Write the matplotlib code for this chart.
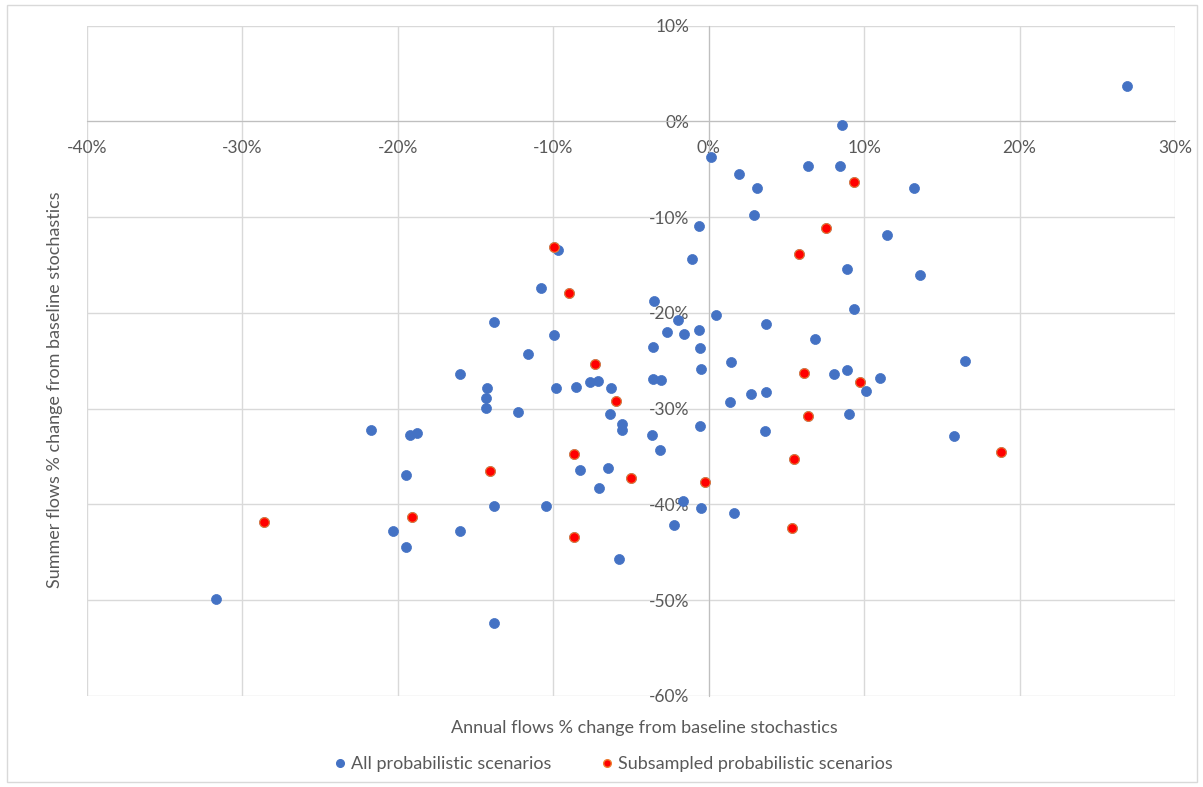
import matplotlib
matplotlib.use("Agg")
import matplotlib.pyplot as plt
from matplotlib.lines import Line2D
from matplotlib.patches import Rectangle
from matplotlib.ticker import PercentFormatter, MultipleLocator

plt.rcParams["axes.unicode_minus"] = False

# annual vs summer flow change (%), scenarios not picked for the subsample
blue_x = [26.9, 8.56, 0.13, 1.95, 3.09, 2.9, -0.62, -1.05, -9.68, -10.8,
          -3.5, 6.37, 8.44, 13.2, 11.5, 8.89, 13.6, -21.7, -20.3, -31.7,
          -13.8, -9.96, -11.65, -15.97, -14.25, -14.34, -14.3, -12.3, -19.2, -18.8,
          -19.5, -13.8, -10.5, -16.0, -19.5, -13.8, -9.8, -8.54, -7.66, -7.15,
          -6.31, -6.33, -5.56, -5.56, -8.29, -6.5, -7.04, -5.78, -3.6, -2.68,
          -1.95, -1.59, -0.6, -0.58, -0.5, -3.59, -3.05, -3.63, -3.13, -0.58,
          -1.63, -0.5, -2.25, 0.45, 3.67, 1.46, 2.73, 3.69, 1.35, 3.65,
          1.65, 9.34, 6.83, 16.5, 8.07, 8.87, 11.0, 10.1, 9.0, 15.8]
blue_y = [3.7, -0.4, -3.7, -5.5, -6.9, -9.8, -10.9, -14.4, -13.4, -17.4,
          -18.7, -4.6, -4.6, -6.9, -11.9, -15.4, -16.0, -32.2, -42.8, -49.9,
          -20.9, -22.3, -24.3, -26.4, -27.8, -28.9, -29.9, -30.3, -32.7, -32.5,
          -36.9, -40.2, -40.2, -42.8, -44.4, -52.4, -27.8, -27.7, -27.2, -27.1,
          -27.8, -30.5, -31.6, -32.2, -36.4, -36.2, -38.3, -45.7, -23.6, -22.0,
          -20.7, -22.2, -21.8, -23.7, -25.8, -26.9, -27.0, -32.7, -34.3, -31.8,
          -39.6, -40.4, -42.1, -20.2, -21.1, -25.1, -28.5, -28.3, -29.3, -32.3,
          -40.9, -19.6, -22.7, -25.0, -26.4, -26.0, -26.8, -28.2, -30.5, -32.9]

# subsampled scenarios
red_x = [9.36, 7.53, 5.8, -9.96, -8.97, -28.6, -7.32, -5.97, -8.69, -14.1,
         -5.02, -0.21, -19.1, -8.67, 5.47, 5.36, 6.16, 9.74, 6.42, 18.8]
red_y = [-6.3, -11.1, -13.8, -13.1, -17.9, -41.8, -25.3, -29.2, -34.7, -36.5,
         -37.2, -37.7, -41.3, -43.4, -35.2, -42.5, -26.3, -27.2, -30.8, -34.5]

# every scenario, the subsampled ones sit underneath the red dots
all_x = blue_x + red_x
all_y = blue_y + red_y

W, H = 1203, 787
font = "Lato"
txt_col = "#595959"
grid_col = "#d9d9d9"

fig = plt.figure(figsize=(W / 100, H / 100), dpi=100)
fig.patches.append(Rectangle((7 / W, 1 - 782 / H), 1190 / W, 777 / H,
                             transform=fig.transFigure, fill=False,
                             edgecolor=grid_col, linewidth=1))

ax = fig.add_axes([87 / W, 1 - 696 / H, (1175 - 87) / W, (696 - 25.7) / H])
ax.set_xlim(-40, 30)
ax.set_ylim(-60, 10)
ax.xaxis.set_major_locator(MultipleLocator(10))
ax.yaxis.set_major_locator(MultipleLocator(10))
ax.xaxis.set_major_formatter(PercentFormatter(decimals=0))
ax.yaxis.set_major_formatter(PercentFormatter(decimals=0))

for v in range(-40, 31, 10):
    ax.axvline(v, color=grid_col, lw=1, zorder=0)
for v in range(-60, 11, 10):
    ax.axhline(v, color=grid_col, lw=1, zorder=0)

for side in ["top", "right"]:
    ax.spines[side].set_visible(False)
ax.spines["bottom"].set_position(("data", 0))
ax.spines["left"].set_position(("data", 0))
ax.spines["bottom"].set_color("#bfbfbf")
ax.spines["left"].set_color("#bfbfbf")
ax.tick_params(length=0, labelsize=12.5, labelcolor=txt_col)
ax.tick_params(axis="x", pad=13)
ax.tick_params(axis="y", pad=14)
for lab in ax.get_xticklabels() + ax.get_yticklabels():
    lab.set_fontfamily(font)

ax.scatter(all_x, all_y, s=52, color="#4472c4", edgecolors="#4472c4",
           linewidths=0.5, zorder=3, clip_on=False)
ax.scatter(red_x, red_y, s=48, color="#ff0000", edgecolors="#ed7d31",
           linewidths=0.8, zorder=4, clip_on=False)

fig.text(644 / W, 1 - 728 / H, "Annual flows % change from baseline stochastics",
         ha="center", va="center", fontsize=13, color=txt_col, family=font)
fig.text(55 / W, 1 - 390 / H, "Summer flows % change from baseline stochastics",
         ha="center", va="center", rotation=90, fontsize=13, color=txt_col,
         family=font)

handles = [
    Line2D([], [], ls="", marker="o", ms=5.5, color="#4472c4",
           label="All probabilistic scenarios"),
    Line2D([], [], ls="", marker="o", ms=5.5, color="#ff0000",
           markeredgecolor="#ed7d31", label="Subsampled probabilistic scenarios"),
]
leg = fig.legend(handles=handles, loc="center", ncol=2, frameon=False,
                 bbox_to_anchor=(612 / W, 1 - 764 / H), handletextpad=0.1,
                 handlelength=1.0, columnspacing=2.6,
                 prop={"family": font, "size": 13})
for t in leg.get_texts():
    t.set_color(txt_col)

fig.savefig("out.png", dpi=100)
